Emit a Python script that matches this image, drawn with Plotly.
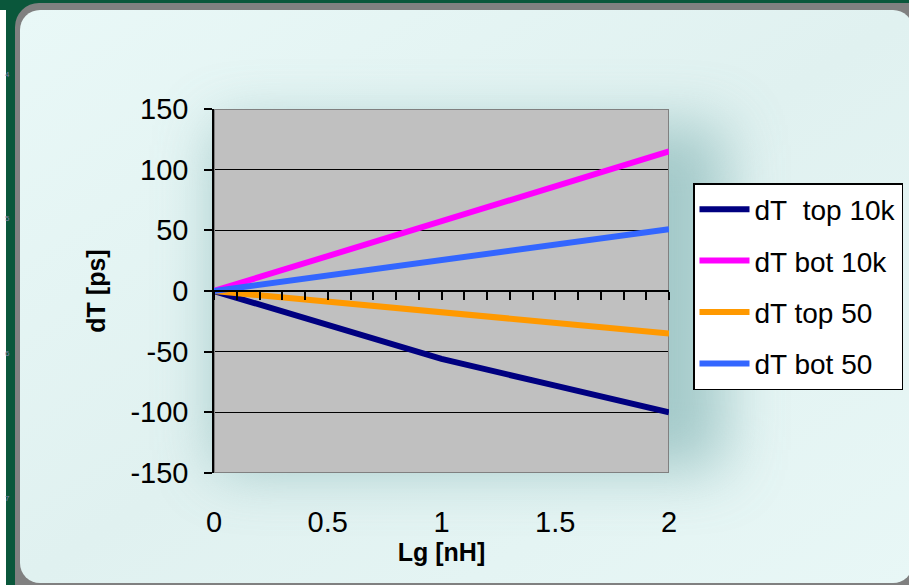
import base64
import plotly.graph_objects as go

# ---- data ----
lg = [0, 0.5, 1, 1.5, 2]
dt_top_10k = [0, -28, -56, -78, -100]
dt_bot_10k = [0, 29, 57, 86, 115]
dt_top_50 = [0, -9, -18, -27, -35]
dt_bot_50 = [0, 13, 26, 38, 51]

series_names = ["dT\u00a0 top 10k", "dT bot 10k", "dT top 50", "dT bot 50"]
series_values = [dt_top_10k, dt_bot_10k, dt_top_50, dt_bot_50]
series_colors = ["#000080", "#FF00FF", "#FF9900", "#3366FF"]

x_tickvals = [0, 0.5, 1, 1.5, 2]
x_ticktext = ["0", "0.5", "1", "1.5", "2"]
y_tickvals = [-150, -100, -50, 0, 50, 100, 150]
y_ticktext = ["-150", "-100", "-50", "0", "50", "100", "150"]

W, H = 909, 585
ML, MR, MT, MB = 214, 240, 109, 112
FONT = "Liberation Sans, Arial, sans-serif"

# ---- background panel as an SVG image ----
svg = f'''<svg xmlns="http://www.w3.org/2000/svg" width="{W}" height="{H}" viewBox="0 0 {W} {H}">
<defs>
<linearGradient id="g" x1="0" y1="0" x2="1" y2="1">
<stop offset="0" stop-color="#e9f8f7"/><stop offset="0.5" stop-color="#e0f1f0"/><stop offset="1" stop-color="#e8f7f6"/>
</linearGradient>
<filter id="b" x="-50%" y="-50%" width="200%" height="200%"><feGaussianBlur stdDeviation="30"/></filter>
</defs>
<rect width="{W}" height="{H}" fill="#0a573b"/>
<rect x="0" y="10" width="6" height="{H}" fill="#ffffff"/>
<rect x="15" y="3" width="940" height="620" rx="24" fill="#808080"/>
<rect x="20" y="10" width="893" height="573" rx="20" fill="url(#g)"/>
<rect x="215" y="125" width="510" height="345" fill="#8fbcbc" opacity="0.75" filter="url(#b)"/>
</svg>'''
uri = "data:image/svg+xml;base64," + base64.b64encode(svg.encode()).decode()

fig = go.Figure()
for name, vals, col in zip(series_names, series_values, series_colors):
    fig.add_trace(go.Scatter(
        x=lg, y=vals, name=name, mode="lines", legendgroup=name,
        line=dict(color=col, width=6),
    ))

pw = W - ML - MR
ph = H - MT - MB

fig.update_layout(
    width=W, height=H,
    margin=dict(l=ML, r=MR, t=MT, b=MB, pad=0, autoexpand=False),
    paper_bgcolor="#0a573b",
    plot_bgcolor="rgba(0,0,0,0)",
    font=dict(family=FONT, color="#000000"),
    showlegend=True,
    legend=dict(
        x=(693 - ML) / pw, y=(H - MB - 183) / ph, xanchor="left", yanchor="top",
        bgcolor="#ffffff", bordercolor="#000000", borderwidth=1.5,
        font=dict(family=FONT, size=28, color="#000000"),
        tracegroupgap=12, itemwidth=50,
    ),
    images=[dict(
        source=uri, xref="paper", yref="paper",
        x=-ML / pw, y=1 + MT / ph, sizex=W / pw, sizey=H / ph,
        xanchor="left", yanchor="top", sizing="stretch", layer="below",
    )],
    xaxis=dict(
        range=[0, 2], tickvals=x_tickvals, ticktext=x_ticktext,
        showgrid=False, zeroline=False, showline=False, ticks="",
        ticklabelstandoff=29,
        tickfont=dict(family=FONT, size=29),
        title=dict(text="<b>Lg [nH]</b>", font=dict(family=FONT, size=25), standoff=4),
    ),
    xaxis2=dict(
        overlaying="x", anchor="free", position=0.5, range=[0, 2],
        dtick=0.1, tick0=0, ticks="outside", ticklen=8, tickwidth=1.5, tickcolor="#000000",
        showticklabels=False, showgrid=False, zeroline=False,
        showline=True, linecolor="#000000", linewidth=1.5,
    ),
    yaxis=dict(
        range=[-150, 150], tickvals=y_tickvals, ticktext=y_ticktext,
        showgrid=True, gridcolor="#000000", gridwidth=1,
        zeroline=False, showline=True, linecolor="#000000", linewidth=1.5,
        ticks="outside", ticklen=8, tickwidth=1.5, tickcolor="#000000",
        ticklabelstandoff=10,
        tickfont=dict(family=FONT, size=29),
        title=dict(text="<b>dT [ps]</b>", font=dict(family=FONT, size=25), standoff=18),
    ),
)

# invisible trace to make xaxis2 render
fig.add_trace(go.Scatter(x=[0, 2], y=[0, 0], xaxis="x2", yaxis="y", mode="lines",
                         line=dict(width=0), showlegend=False, hoverinfo="skip"))

# plot-area fill and border
fig.add_shape(type="rect", xref="x", yref="y", x0=0, x1=2, y0=-150, y1=150,
              fillcolor="#c0c0c0", line=dict(width=0), layer="below")
fig.add_shape(type="rect", xref="x", yref="y", x0=0, x1=2, y0=-150, y1=150,
              line=dict(color="#808080", width=2), layer="between")

# tiny slide numbers at the left edge
for txt, yy in [("4", 68), ("5", 212), ("6", 360), ("7", 505)]:
    fig.add_annotation(text=txt, xref="paper", yref="paper",
                       x=-(ML - 3) / pw, y=1 - (yy - MT) / ph, showarrow=False,
                       font=dict(family=FONT, size=8, color="#7a86b0"))

fig.write_html("out.html")
